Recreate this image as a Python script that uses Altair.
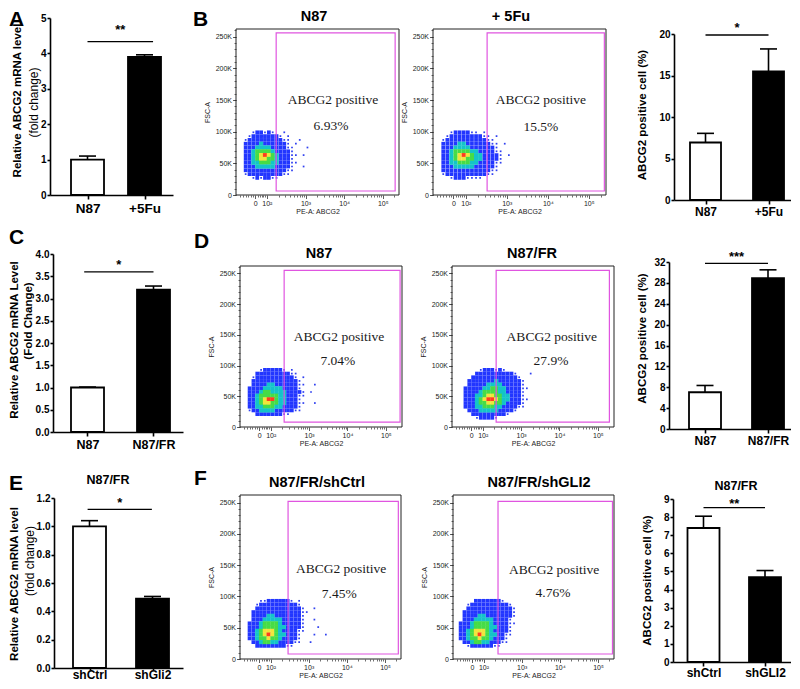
import math
import altair as alt
import pandas as pd

FONT = "Liberation Sans"
SERIF = "Liberation Serif"
PINK = "#e055e0"

# ---------------- bar chart data ----------------
A_CATS = ["N87", "+5Fu"]
A_VALS = [1.0, 3.9]
A_ERRS = [0.1, 0.06]
A_YTICKS = [0, 1, 2, 3, 4, 5]
A_STARS = "**"

BR_CATS = ["N87", "+5Fu"]
BR_VALS = [6.93, 15.5]
BR_ERRS = [1.1, 2.7]
BR_YTICKS = [0, 5, 10, 15, 20]
BR_STARS = "*"

C_CATS = ["N87", "N87/FR"]
C_VALS = [1.0, 3.2]
C_ERRS = [0.01, 0.08]
C_YTICKS = [0.0, 0.5, 1.0, 1.5, 2.0, 2.5, 3.0, 3.5, 4.0]
C_STARS = "*"

DR_CATS = ["N87", "N87/FR"]
DR_VALS = [7.04, 28.9]
DR_ERRS = [1.3, 1.6]
DR_YTICKS = [0, 4, 8, 12, 16, 20, 24, 28, 32]
DR_STARS = "***"

E_CATS = ["shCtrl", "shGli2"]
E_VALS = [1.0, 0.49]
E_ERRS = [0.04, 0.015]
E_YTICKS = [0.0, 0.2, 0.4, 0.6, 0.8, 1.0, 1.2]
E_STARS = "*"

FR_CATS = ["shCtrl", "shGLI2"]
FR_VALS = [7.4, 4.68]
FR_ERRS = [0.65, 0.37]
FR_YTICKS = [0, 1, 2, 3, 4, 5, 6, 7, 8, 9]
FR_STARS = "**"

# ---------------- flow cytometry data ----------------
X_DOMAIN = [1.2, 5.42]
Y_DOMAIN = [0, 262144]
X_MAJ = [1.7, 2, 3, 4, 5]
X_LAB = ["0", "10²", "10³", "10⁴", "10⁵"]
X_MIN_LIN = [1.3, 1.38, 1.45, 1.52, 1.58, 1.63, 1.77, 1.82, 1.87, 1.91, 1.95]
X_MIN_LOG_K = [2, 3, 4, 5, 6, 7, 8, 9]
Y_MAJ = [0, 50000, 100000, 150000, 200000, 250000]
Y_LAB = ["0", "50K", "100K", "150K", "200K", "250K"]
Y_MIN = [i * 10000 for i in range(27)]

LEVELS = [":", "b", "c", "g", "y", "r"]
LCOLORS = ["#3040f0", "#2236ff", "#14c4c8", "#46dc46", "#f0e53c", "#ff3c1e"]

B1_GRID = [
    "..:bb:b:..:......",
    ".:bbbbbbb:.:.....",
    ":bbbbbbbbb::..:..",
    "bbbbcbbbbbb:.:...",
    "bbbccccbbbb::...:",
    "bbcggggcbbbb:....",
    "bbcgyrygcbbb::.:.",
    "bbcgyyggcbbb:....",
    "bbccgggccbbb::...",
    "bbbcccccbbbb:..:.",
    "bbbbbbbbbbb::....",
    ":bbbbbbbbb::.....",
    "..:b:bb::........",
]
B2_GRID = [
    "..:bbbb::.:......",
    ".:bbbbbbbb::.:...",
    ":bbbbbbbbbb::....",
    "bbbbccbbbbbb::.:.",
    "bbbccccbbbbbb:...",
    "bbcggggccbbbb::..",
    "bbcgyrygccbbbb:.:",
    "bbcgyyggccbbbb:..",
    "bbccgggccbbbb::..",
    "bbbcccccbbbbb:...",
    "bbbbbbbbbbbb::...",
    ":bbbbbbbbbb::....",
    "..:bbb::::.......",
]
D1_GRID = [
    "...:bbbbb:.:......",
    "..bbbbbbbbb::.....",
    ".:bbbbbbbbbb:.:...",
    ".bbbbbbbbbbbb:....",
    ".bbbbccbbbbbb::..:",
    "bbbbcccccbbbb:....",
    "bbbcggccccbbbb:.:.",
    "bbcgggggccbbb::...",
    "bbcgyrrgccbbb:....",
    "bbcgyyggccbbb::..:",
    "bbccgggccbbbb:....",
    ":bbccccbbbbb::....",
    "..bbbbbbb::.......",
]
D2_GRID = [
    "....:bbb:b:.......",
    "...bbbbbbbbbb:...:",
    "..bbbbbbbbbbbb:...",
    ".bbbbbbbcbbbbbb:..",
    ".bbbbbccccbbbbb:..",
    "bbbbbccggccbbbb::.",
    "bbbbcggggccbbbb:..",
    "bbbccgyyggccbbb:..",
    "bbbcgyrrygccbbb::.",
    "bbbcggyyggcbbbb:..",
    "bbbccgggccbbbb::..",
    ".bbbcccccbbbb:....",
    "..bbbbbbbbb:......",
    "...:bbbb:.........",
]
F1_GRID = [
    "...::bbbbbb:.:.......",
    "..:bbbbbbbbbb:.......",
    "..bbbbbbbbbbbb:..:...",
    ".bbbbbbbbbbbbb::.....",
    ".bbbbccbbbbbbb:......",
    ".bbbcccccbbbbb:..:...",
    "bbbcggggcbbbbb:......",
    "bbbcggggccbbbb:...:..",
    "bbcgyyygcbbbb::......",
    "bbcgyrygccbbb:...:..:",
    "bbcggyggcbbbb:.......",
    ".bbcggccbbbb::..:....",
    "..bbbbbbbb::.........",
]
F2_GRID = [
    "....bbbbbbb:......",
    "..:bbbbbbbbbb:....",
    "..bbbbbbbbbbbb:...",
    ".bbbbbbbbbbbbb:...",
    ".bbbbccbbbbbbb:...",
    ".bbbcccccbbbb:....",
    "bbbcggggcbbbb::...",
    "bbbcggggccbbb:....",
    "bbcgyyygcbbbb:....",
    "bbcgyrygccbb::....",
    "bbcggyggcbbb:.....",
    ".bbcggccbbb::.....",
    "..:bbbbbb::.......",
]
GRID_DU = 0.1
GRID_DY = 6000

# the view starts at the page's 8px margin; panel positions below are page pixels
PAGE = 8
VIEW_W, VIEW_H = 782, 660
ONE = pd.DataFrame({"k": [0]})


def lab_expr(vals, labs):
    s = "''"
    for v, l in reversed(list(zip(vals, labs))):
        s = f"datum.value == {v} ? '{l}' : {s}"
    return s


def txt(text, x, y, size, weight="bold", angle=0, align="center",
        baseline="middle", font=FONT, color="black"):
    return alt.Chart(ONE).mark_text(
        text=text, fontSize=size, fontWeight=weight, angle=angle, align=align,
        baseline=baseline, font=font, color=color
    ).encode(x=alt.value(x), y=alt.value(y))


def ann(text, x, y, size, **kw):
    return (text, x, y, size, kw)


def bar_panel(cats, vals, errs, yticks, yfmt, xdom, px, py, W, H, bw, sig, extras,
              label_size, label_pad=2, xtick=4):
    x0, y0 = px - PAGE, py - PAGE
    df = pd.DataFrame({
        "idx": list(range(len(cats))), "cat": cats, "val": vals,
        "top": [v + e for v, e in zip(vals, errs)],
    })
    ymax = yticks[-1]
    xs = alt.Scale(domain=xdom, range=[x0, x0 + W], nice=False, zero=False, padding=0)
    ys = alt.Scale(domain=[0, ymax], range=[y0 + H, y0], nice=False, zero=False)
    common = dict(grid=False, domainColor="black", domainWidth=1.6, tickColor="black",
                  tickWidth=1.6, labelFont=FONT, labelFontWeight="bold",
                  labelColor="black", labelOverlap=False, labelFlush=False, title=None)
    xaxis = alt.Axis(values=list(range(len(cats))), labelExpr=lab_expr(range(len(cats)), cats),
                     tickSize=xtick, labelFontSize=label_size, labelPadding=label_pad,
                     orient="bottom", offset=(y0 + H) - VIEW_H, **common)
    yaxis = alt.Axis(values=yticks, format=yfmt, tickSize=3, labelFontSize=10,
                     labelPadding=1, orient="left", offset=-x0, **common)
    bars = alt.Chart(df).mark_bar(width=bw, stroke="black", strokeWidth=1.8, orient="vertical").encode(
        x=alt.X("idx:Q", scale=xs, axis=xaxis),
        y=alt.Y("val:Q", scale=ys, axis=yaxis),
        fill=alt.Fill("cat:N", scale=alt.Scale(domain=cats, range=["white", "black"]), legend=None),
    )
    err = alt.Chart(df).mark_rule(color="black", strokeWidth=1.6).encode(
        x=alt.X("idx:Q", scale=xs, axis=None),
        y=alt.Y("val:Q", scale=ys, axis=None), y2="top:Q")
    cap = alt.Chart(df).mark_tick(orient="horizontal", size=17, thickness=1.6,
                                  color="black", opacity=1).encode(
        x=alt.X("idx:Q", scale=xs, axis=None),
        y=alt.Y("top:Q", scale=ys, axis=None))
    x1, x2, yl, yst, stars = sig
    sdf = pd.DataFrame({"x1": [x1], "x2": [x2], "y": [yl], "xm": [(x1 + x2) / 2],
                        "ys": [yst], "s": [stars]})
    sline = alt.Chart(sdf).mark_rule(color="black", strokeWidth=1.3).encode(
        x=alt.X("x1:Q", scale=xs, axis=None), x2="x2:Q",
        y=alt.Y("y:Q", scale=ys, axis=None))
    stext = alt.Chart(sdf).mark_text(fontSize=13, fontWeight="bold", font=FONT,
                                     baseline="alphabetic", dy=7.5).encode(
        x=alt.X("xm:Q", scale=xs, axis=None),
        y=alt.Y("ys:Q", scale=ys, axis=None), text="s:N")
    texts = [txt(t, x0 + x, y0 + y, s, **kw) for (t, x, y, s, kw) in extras]
    return alt.layer(bars, err, cap, sline, stext, *texts).resolve_axis(
        x="independent", y="independent")


def grid_df(rows, u0, ytop):
    rec = []
    for j, row in enumerate(rows):
        for i, ch in enumerate(row):
            if ch != ".":
                rec.append({"u": u0 + GRID_DU * (i + 0.5),
                            "f": ytop - GRID_DY * (j + 0.5), "lv": ch})
    return pd.DataFrame(rec)


X_MIN = X_MIN_LIN + [round(d + math.log10(k), 4) for d in (2, 3, 4) for k in X_MIN_LOG_K] + [5.301]


def flow_panel(grid, u0, ytop, gate, lab_pos, pct_pos, pct, title, title_x,
               px, py, W, H, extras=()):
    x0, y0 = px - PAGE, py - PAGE
    gdf = grid_df(grid, u0, ytop)
    xs = alt.Scale(domain=X_DOMAIN, range=[x0, x0 + W], nice=False, zero=False)
    ys = alt.Scale(domain=Y_DOMAIN, range=[y0 + H, y0], nice=False, zero=False)
    xoff = (y0 + H) - VIEW_H
    fax = dict(grid=False, domain=False, tickColor="#333", tickWidth=0.8,
               labelFont=FONT, labelFontSize=7, labelColor="#222", labelPadding=1,
               labelOverlap=False, labelFlush=False, titleFont=FONT, titleFontSize=7,
               titleFontWeight="normal", titleColor="#222")
    xmaj = alt.Axis(values=X_MAJ, labelExpr=lab_expr(X_MAJ, X_LAB), title="PE-A: ABCG2",
                    orient="bottom", offset=xoff, tickSize=3.5, titlePadding=1, **fax)
    ymaj = alt.Axis(values=Y_MAJ, labelExpr=lab_expr(Y_MAJ, Y_LAB), title="FSC-A",
                    orient="left", offset=-x0, tickSize=3.5, titlePadding=5, **fax)
    xmin = alt.Axis(values=X_MIN, labels=False, title=None, orient="bottom", offset=xoff,
                    tickSize=2, domain=False, grid=False, tickColor="#333", tickWidth=0.7)
    ymin = alt.Axis(values=Y_MIN, labels=False, title=None, orient="left", offset=-x0,
                    tickSize=2, domain=False, grid=False, tickColor="#333", tickWidth=0.7)
    cs = alt.Scale(domain=LEVELS, range=LCOLORS)
    base = alt.Chart(gdf)
    sparse = base.transform_filter(alt.datum.lv == ":").mark_square(
        size=3, opacity=1, strokeWidth=0).encode(
        x=alt.X("u:Q", scale=xs, axis=xmaj), y=alt.Y("f:Q", scale=ys, axis=ymaj),
        color=alt.Color("lv:N", scale=cs, legend=None))
    blue = base.transform_filter(alt.datum.lv == "b").mark_square(
        size=14, opacity=1, strokeWidth=0).encode(
        x=alt.X("u:Q", scale=xs, axis=None), y=alt.Y("f:Q", scale=ys, axis=None),
        color=alt.Color("lv:N", scale=cs, legend=None))
    core = base.transform_filter(alt.FieldOneOfPredicate(field="lv", oneOf=["c", "g", "y", "r"])).mark_square(
        size=17, opacity=1, strokeWidth=0).encode(
        x=alt.X("u:Q", scale=xs, axis=None), y=alt.Y("f:Q", scale=ys, axis=None),
        color=alt.Color("lv:N", scale=cs, legend=None))
    gx1, gx2, gy1, gy2 = gate
    gdf2 = pd.DataFrame({"x1": [gx1], "x2": [gx2], "y1": [gy1], "y2": [gy2]})
    gate_l = alt.Chart(gdf2).mark_rect(fillOpacity=0, stroke=PINK, strokeWidth=1.2).encode(
        x=alt.X("x1:Q", scale=xs, axis=xmin), x2="x2:Q",
        y=alt.Y("y1:Q", scale=ys, axis=ymin), y2="y2:Q")
    fdf = pd.DataFrame({"x1": [X_DOMAIN[0]], "x2": [X_DOMAIN[1]],
                        "y1": [Y_DOMAIN[0]], "y2": [Y_DOMAIN[1]]})
    frame = alt.Chart(fdf).mark_rect(fillOpacity=0, stroke="#222", strokeWidth=1).encode(
        x=alt.X("x1:Q", scale=xs, axis=None), x2="x2:Q",
        y=alt.Y("y1:Q", scale=ys, axis=None), y2="y2:Q")
    tdf = pd.DataFrame({"u": [lab_pos[0], pct_pos[0]], "f": [lab_pos[1], pct_pos[1]],
                        "t": ["ABCG2 positive", pct]})
    texts = alt.Chart(tdf).mark_text(font=SERIF, fontSize=13.5, color="#1a1a1a").encode(
        x=alt.X("u:Q", scale=xs, axis=None), y=alt.Y("f:Q", scale=ys, axis=None), text="t:N")
    ttl = txt(title, x0 + title_x, y0 - 8.5, 14.5, baseline="alphabetic")
    more = [txt(t, x0 + x, y0 + y, s, **kw) for (t, x, y, s, kw) in extras]
    return alt.layer(sparse, blue, core, gate_l, frame, texts, ttl, *more).resolve_axis(
        x="independent", y="independent")


LETTER = dict(align="left", baseline="top")

# ---------------- panels (px, py = plot top-left, page pixels) ----------------
pA = bar_panel(A_CATS, A_VALS, A_ERRS, A_YTICKS, "d", [-0.658, 1.5], 49, 18, 123, 177, 33,
               (0, 1.15, 4.33, 4.75, A_STARS),
               [ann("A", -41, -9, 21, **LETTER),
                ann("Relative ABCG2 mRNA level", -32, 177 / 2 - 6, 11.5, angle=270),
                ann("(fold change)", -16, 177 / 2 - 4, 12, weight="normal", angle=270)],
               13.5)
pBR = bar_panel(BR_CATS, BR_VALS, BR_ERRS, BR_YTICKS, "d", [-0.5, 1.357], 673, 34, 117, 166, 31,
                (0, 1, 19.88, 21.2, BR_STARS),
                [ann("ABCG2 positive cell (%)", -31, 166 / 2 - 2, 11.5, angle=270)],
                12)
pC = bar_panel(C_CATS, C_VALS, C_ERRS, C_YTICKS, ".1f", [-0.5227, 1.447], 52, 254, 130, 178, 33,
               (-0.05, 1.0, 3.60, 3.84, C_STARS),
               [ann("C", -44, -26.6, 21, **LETTER),
                ann("Relative ABCG2 mRNA Level", -38.5, 178 / 2 - 3, 11.5, angle=270),
                ann("(Fold Change)", -24.5, 178 / 2 - 22, 11.5, angle=270)],
               12.5)
pDR = bar_panel(DR_CATS, DR_VALS, DR_ERRS, DR_YTICKS, "d", [-0.5714, 1.365], 668, 262, 122, 167, 32,
                (0, 1, 31.75, 33.7, DR_STARS),
                [ann("ABCG2 positive cell (%)", -26, 167 / 2 - 7, 11.5, angle=270)],
                12)
pE = bar_panel(E_CATS, E_VALS, E_ERRS, E_YTICKS, ".1f", [-0.5635, 1.484], 53, 498, 129, 170, 33,
               (-0.03, 0.99, 1.12, 1.186, E_STARS),
               [ann("E", -45, -24.6, 21, **LETTER),
                ann("N87/FR", 54, -18, 12.5),
                ann("Relative ABCG2 mRNA level", -39.5, 170 / 2 + 1, 11.5, angle=270),
                ann("(fold change)", -24, 170 / 2 - 22, 12, weight="normal", angle=270)],
               12, label_pad=-1, xtick=2)
pFR = bar_panel(FR_CATS, FR_VALS, FR_ERRS, FR_YTICKS, "d", [-0.4959, 1.4228], 672, 499, 118, 163, 32,
                (0, 1, 8.52, 8.89, FR_STARS),
                [ann("N87/FR", 63, -13, 12.5),
                 ann("ABCG2 positive cell (%)", -25, 163 / 2, 11.5, angle=270)],
                12, label_pad=1)

pB1 = flow_panel(B1_GRID, 1.4, 102000, (2.24, 5.32, 6300, 256000), (3.71, 150000),
                 (3.66, 109000), "6.93%", "N87", 78, 235, 29, 163, 166,
                 [ann("B", -43, -20, 21, **LETTER)])
pB2 = flow_panel(B2_GRID, 1.4, 102000, (2.52, 5.38, 6300, 256000), (3.83, 150000),
                 (3.83, 108000), "15.5%", "+ 5Fu", 78, 432, 29, 173, 166)
pD1 = flow_panel(D1_GRID, 1.4, 96000, (2.35, 5.37, 8000, 255000), (3.78, 146500),
                 (3.75, 107500), "7.04%", "N87", 79, 239, 266, 162, 161,
                 [ann("D", -46, -34.6, 21, **LETTER)])
pD2 = flow_panel(D2_GRID, 1.5, 96000, (2.35, 5.3, 8000, 255000), (3.8, 146500),
                 (3.78, 107500), "27.9%", "N87/FR", 80, 451, 266, 162, 161)
pF1 = flow_panel(F1_GRID, 1.4, 96000, (2.46, 5.35, 8000, 252000), (3.85, 144000),
                 (3.8, 104000), "7.45%", "N87/FR/shCtrl", 77, 239, 495, 161, 164,
                 [ann("F", -46, -26.6, 21, **LETTER)])
pF2 = flow_panel(F2_GRID, 1.35, 96000, (2.38, 5.38, 8000, 252000), (3.85, 143000),
                 (3.82, 106000), "4.76%", "N87/FR/shGLI2", 86, 452, 495, 161, 164)

chart = alt.layer(pA, pB1, pB2, pBR, pC, pD1, pD2, pDR, pE, pF1, pF2, pFR).resolve_scale(
    x="independent", y="independent", fill="independent"
).resolve_axis(
    x="independent", y="independent"
).properties(
    width=VIEW_W, height=VIEW_H,
    padding={"left": 0, "top": 0, "right": 0, "bottom": 0}
).configure(font=FONT).configure_view(stroke="transparent")

chart.save("out.html", embed_options={"renderer": "svg", "actions": False})
